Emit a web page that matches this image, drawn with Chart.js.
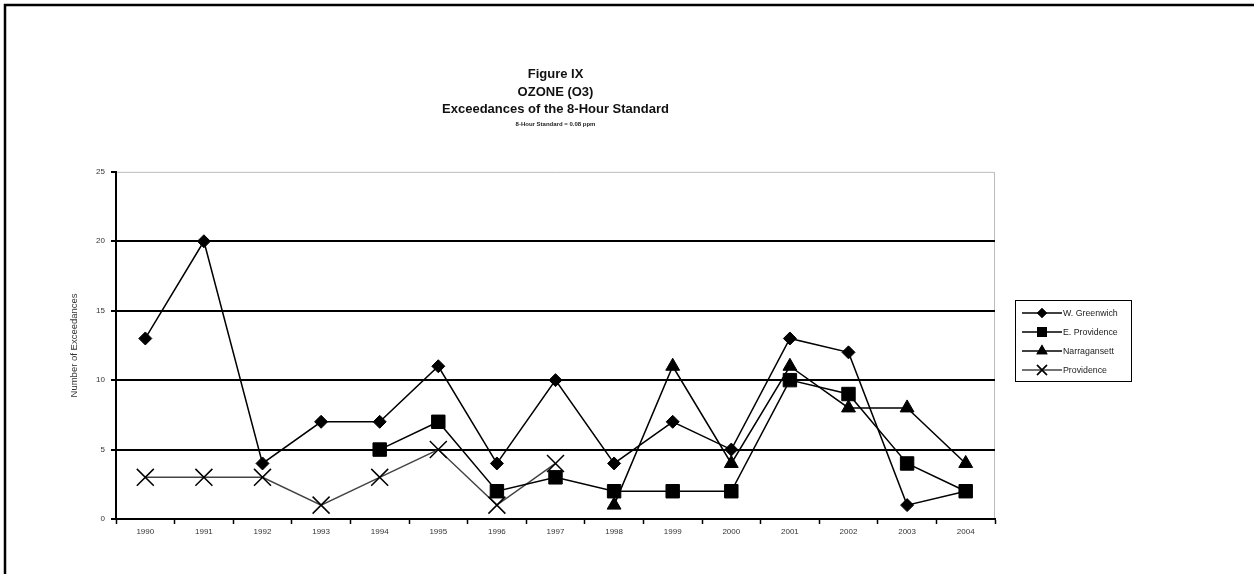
<!DOCTYPE html>
<html>
<head>
<meta charset="utf-8">
<script src="https://cdn.jsdelivr.net/npm/chart.js@4"></script>
<style>
	html, body { margin: 0; padding: 0; background: #fff; }
	#wrap { width: 1254px; height: 574px; position: relative; }
</style>
</head>
<body>
<div id="wrap"><canvas id="ozoneChart" width="1254" height="574"></canvas></div>
<script>
const FONT		= "'Liberation Sans', Arial, sans-serif";

const years		= [ "1990", "1991", "1992", "1993", "1994", "1995", "1996", "1997", "1998", "1999", "2000", "2001", "2002", "2003", "2004" ];
const wGreenwich	= [ 13, 20, 4, 7, 7, 11, 4, 10, 4, 7, 5, 13, 12, 1, 2 ];
const eProvidence	= [ null, null, null, null, 5, 7, 2, 3, 2, 2, 2, 10, 9, 4, 2 ];
const narragansett	= [ null, null, null, null, null, null, null, null, 1, 11, 4, 11, 8, 8, 4 ];
const providence	= [ 3, 3, 3, 1, 3, 5, 1, 4, null, null, null, null, null, null, null ];

const titleLines	= [ "Figure IX", "OZONE (O3)", "Exceedances of the 8-Hour Standard" ];
const subTitle		= "8-Hour Standard = 0.08 ppm";
const yTitle		= "Number of Exceedances";

// frame round the page and a hand drawn legend box (line + marker like the original)
const framePlugin = {
	id: "frame",
	beforeDraw( chart ) {
		const ctx = chart.ctx;
		ctx.save();
		ctx.strokeStyle	= "#000";
		ctx.lineWidth	= 2.5;
		ctx.beginPath();
		ctx.moveTo( 5, 574 );
		ctx.lineTo( 5, 5 );
		ctx.lineTo( 1254, 5 );
		ctx.stroke();

		// plot area border (top / right), light grey
		const a = chart.chartArea;
		ctx.strokeStyle	= "#bbb";
		ctx.lineWidth	= 1;
		ctx.beginPath();
		ctx.moveTo( a.left, a.top + 0.5 );
		ctx.lineTo( a.right - 0.5, a.top + 0.5 );
		ctx.lineTo( a.right - 0.5, a.bottom );
		ctx.stroke();
		ctx.restore();
	},
	afterDraw( chart ) {
		const ctx	= chart.ctx;
		const bx	= 1015;
		const by	= 300;
		const bw	= 116;
		const bh	= 81;
		ctx.save();
		ctx.fillStyle	= "#fff";
		ctx.fillRect( bx, by, bw, bh );
		ctx.strokeStyle	= "#000";
		ctx.lineWidth	= 1;
		ctx.strokeRect( bx + 0.5, by + 0.5, bw, bh );

		chart.data.datasets.forEach( ( ds, i ) => {
			const y = by + 13 + i * 19;
			ctx.strokeStyle	= ds.borderColor;
			ctx.lineWidth	= 1.5;
			ctx.beginPath();
			ctx.moveTo( bx + 7, y );
			ctx.lineTo( bx + 47, y );
			ctx.stroke();

			Chart.helpers.drawPoint( ctx, {
				pointStyle:	ds.pointStyle,
				radius:		ds.legendRadius,
				borderWidth:	ds.pointBorderWidth
			}, bx + 27, y );
			ctx.fillStyle	= ds.pointBackgroundColor;
			ctx.strokeStyle	= ds.pointBorderColor;
			ctx.fill();
			ctx.stroke();

			ctx.fillStyle		= "#222";
			ctx.font		= "8.8px " + FONT;
			ctx.textBaseline	= "middle";
			ctx.textAlign		= "left";
			ctx.fillText( ds.label, bx + 48, y + 0.5 );
		} );
		ctx.restore();
	}
};

function series( label, data, style, radius, legendRadius, color ) {
	return {
		label:			label,
		data:			data,
		borderColor:		color,
		borderWidth:		1.5,
		pointStyle:		style,
		pointRadius:		radius,
		pointHoverRadius:	radius,
		legendRadius:		legendRadius,
		pointBackgroundColor:	"#000",
		pointBorderColor:	"#000",
		pointBorderWidth:	style === "crossRot" ? 1.5 : 1,
		tension:		0,
		fill:			false
	};
}

const cfg = {
	type: "line",
	data: {
		labels: years,
		datasets: [
			series( "W. Greenwich",  wGreenwich,   "rectRot",  6.5, 4,   "#000" ),
			series( "E. Providence", eProvidence,  "rect",     9.5, 6,   "#000" ),
			series( "Narragansett",  narragansett, "triangle", 8,   5,   "#000" ),
			series( "Providence",    providence,   "crossRot", 12,  7,   "#444" )
		]
	},
	options: {
		responsive:	false,
		animation:	false,
		devicePixelRatio: 1,
		layout: { padding: { left: 0, right: 259, top: 0, bottom: 0 } },
		plugins: {
			legend:		{ display: false },
			tooltip:	{ enabled: false },
			title: {
				display:	true,
				fullSize:	false,
				text:		titleLines,
				color:		"#111",
				font:		{ family: FONT, size: 13, weight: "bold", lineHeight: 1.35 },
				padding:	{ top: 66, bottom: 0 }
			},
			subtitle: {
				display:	true,
				fullSize:	false,
				text:		subTitle,
				color:		"#222",
				font:		{ family: FONT, size: 6, weight: "bold", lineHeight: 1.2 },
				padding:	{ top: 2, bottom: 44 }
			}
		},
		scales: {
			x: {
				offset: true,
				grid: {
					offset:			true,
					drawOnChartArea:	false,
					drawTicks:		true,
					tickLength:		5,
					tickColor:		"#000",
					tickWidth:		1.5
				},
				border:	{ display: true, color: "#000", width: 2 },
				ticks: {
					color:		"#333",
					font:		{ family: FONT, size: 8 },
					padding:	3,
					maxRotation:	0,
					autoSkip:	false
				},
				afterFit( scale ) { scale.height = 55; }
			},
			y: {
				min:	0,
				max:	25,
				grid: {
					color:		( c ) => c.tick.value === 25 ? "rgba(0,0,0,0)" : "#000",
					lineWidth:	2,
					drawTicks:	true,
					tickLength:	5,
					tickColor:	"#000"
				},
				border:	{ display: true, color: "#000", width: 2 },
				ticks: {
					stepSize:	5,
					color:		"#333",
					font:		{ family: FONT, size: 8 },
					padding:	6
				},
				title: {
					display:	true,
					text:		yTitle,
					color:		"#333",
					font:		{ family: FONT, size: 9.5, lineHeight: 1.2 },
					padding:	{ top: 69, bottom: 0 }
				},
				afterFit( scale ) { scale.width = 116; }
			}
		}
	},
	plugins: [ framePlugin ]
};

window.addEventListener( "load", function () {
	new Chart( document.getElementById( "ozoneChart" ), cfg );
} );
</script>
</body>
</html>
